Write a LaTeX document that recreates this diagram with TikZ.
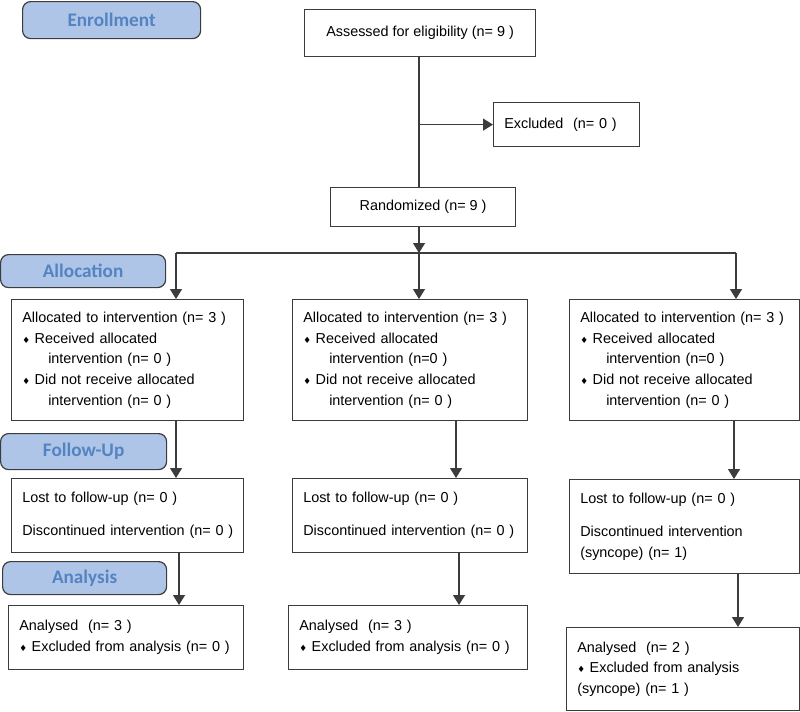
\documentclass[tikz,border=0pt]{standalone}
\usepackage{fontspec}
\setmainfont{Liberation Sans}
\newfontfamily\tabfont{Carlito}
\newfontfamily\symfont{DejaVu Sans}
\usetikzlibrary{arrows.meta}

\definecolor{tabfill}{RGB}{174,197,232}
\definecolor{tabtext}{RGB}{84,131,194}
\definecolor{edgegray}{RGB}{60,60,60}

\newcommand{\dia}{{\symfont\fontsize{6.5}{6.5}\selectfont ♦}\hspace{3.5pt}}
\newcommand{\hang}{\hspace*{19.5pt}}

\begin{document}
\begin{tikzpicture}
[x=0.75pt, y=-0.75pt,
ar/.style={-{Triangle[width=9pt,length=7.5pt]}, line width=1pt, draw=edgegray},
ln/.style={line width=1pt, draw=edgegray},
mynode/.style={
  draw=edgegray, line width=0.9pt, fill=white, inner sep=0pt,
  anchor=north west, font=\fontsize{10.8}{15.6}\selectfont
  }
]
\useasboundingbox (0,0) rectangle (800,711);

\tikzstyle{tabnode}  =  [mynode, fill=tabfill, rounded corners=6pt, align=center, text=tabtext, font=\tabfont\bfseries\fontsize{14.4}{16}\selectfont, minimum height=24.75pt]
\tikzstyle{ctrnode}  =  [mynode, align=center]
\tikzstyle{listnode}  =  [mynode, align=left, inner xsep=8pt]

% enrollment
\node[tabnode, minimum width=133.5pt, minimum height=27.75pt] (enroll) at (22,1) {Enrollment};
\node[ctrnode, minimum width=173.25pt, minimum height=35.25pt] (assess) at (304,9) {Assessed for eligibility (n= 9 )};
\node[listnode, text width=93.5pt, minimum height=33pt] (excl) at (493,102) {Excluded\ \ (n= 0 )};
\node[ctrnode, minimum width=138.75pt, minimum height=29.25pt] (rand) at (330,187) {Randomized (n= 9 )};

% allocation
\node[tabnode, minimum width=123.75pt] (alloc) at (0,254) {Allocation};
\node[listnode, text width=158pt, minimum height=90.75pt] (al1) at (11,299)
  {Allocated to intervention (n= 3 )\\\dia Received allocated\\\hang intervention (n= 0 )\\\dia Did not receive allocated\\\hang intervention (n= 0 )};
\node[listnode, text width=160.25pt, minimum height=90.75pt] (al2) at (292,299)
  {Allocated to intervention (n= 3 )\\\dia Received allocated\\\hang intervention (n=0 )\\\dia Did not receive allocated\\\hang intervention (n= 0 )};
\node[listnode, text width=156.5pt, minimum height=90.75pt] (al3) at (569,299)
  {Allocated to intervention (n= 3 )\\\dia Received allocated\\\hang intervention (n=0 )\\\dia Did not receive allocated\\\hang intervention (n= 0 )};

% follow-up
\node[tabnode, minimum width=124.5pt, minimum height=27pt] (follow) at (0,433) {Follow-Up};
\node[listnode, text width=158pt, minimum height=55.5pt] (fu1) at (11,478)
  {Lost to follow-up (n= 0 )\\[9pt]\mbox{Discontinued intervention (n= 0 )}};
\node[listnode, text width=160.25pt, minimum height=55.5pt] (fu2) at (292,478)
  {Lost to follow-up (n= 0 )\\[9pt]\mbox{Discontinued intervention (n= 0 )}};
\node[listnode, text width=156.5pt, minimum height=70.5pt] (fu3) at (569,479)
  {Lost to follow-up (n= 0 )\\[9pt]Discontinued intervention\\(syncope) (n= 1)};

% analysis
\node[tabnode, minimum width=123pt] (anal) at (2,561) {Analysis};
\node[listnode, text width=160.25pt, minimum height=48pt] (an1) at (8,605)
  {Analysed\ \ (n= 3 )\\\dia Excluded from analysis (n= 0 )};
\node[listnode, text width=163.25pt, minimum height=48pt] (an2) at (288,605)
  {Analysed\ \ (n= 3 )\\\dia Excluded from analysis (n= 0 )};
\node[listnode, text width=158.75pt, minimum height=62.25pt] (an3) at (566,627)
  {Analysed\ \ (n= 2 )\\\dia Excluded from analysis\\(syncope) (n= 1 )};

%edges

\coordinate (split) at (419,253);
\coordinate (c1) at (176,253);
\coordinate (c3) at (736,253);
\coordinate (d1) at (176,0);
\coordinate (e1) at (179,0);
\coordinate (d2) at (456,0);
\coordinate (e2) at (459,0);
\coordinate (d3) at (734,0);
\coordinate (e3) at (738,0);

\draw[ln] (assess.south -| split) -- (rand.north -| split);
\draw[ar] (split |- excl.west) -- (excl.west);
\draw[ar] (rand.south -| split) -- (split);
\draw[ln] (c1) -- (c3);

\draw[ar] (c1) -- (c1 |- al1.north);
\draw[ar] (split) -- (split |- al2.north);
\draw[ar] (c3) -- (c3 |- al3.north);

\draw[ar] (al1.south -| d1) -- (fu1.north -| d1);
\draw[ar] (al2.south -| d2) -- (fu2.north -| d2);
\draw[ar] (al3.south -| d3) -- (fu3.north -| d3);

\draw[ar] (fu1.south -| e1) -- (an1.north -| e1);
\draw[ar] (fu2.south -| e2) -- (an2.north -| e2);
\draw[ar] (fu3.south -| e3) -- (an3.north -| e3);

\end{tikzpicture}
\end{document}
